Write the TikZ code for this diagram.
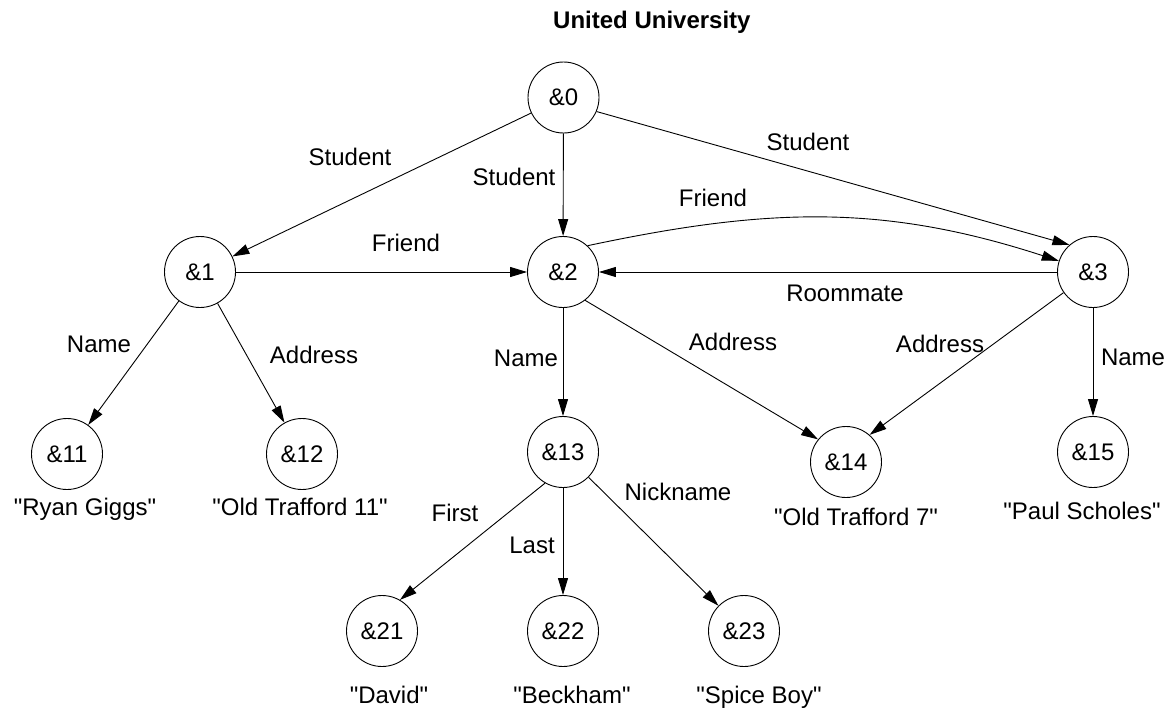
\documentclass[tikz,border=0pt]{standalone}
\usepackage{fontspec}
\setmainfont{Liberation Sans}
\usetikzlibrary{arrows.meta}
% straight double quote around string values
\newcommand{\qq}[1]{\textquotedbl#1\textquotedbl}

\begin{document}
\begin{tikzpicture}[x=1pt,y=-1pt,
  state/.style={circle,draw,line width=0.9pt,minimum size=71pt,inner sep=0pt,
    font=\fontsize{24}{28}\selectfont},
  lbl/.style={anchor=base,inner sep=0pt,font=\fontsize{24}{28}\selectfont},
  link/.style={line width=0.9pt,-{Triangle[length=17pt,width=10pt]}}]
\useasboundingbox (0,0) rectangle (1169,709);

% title
\node[lbl,anchor=base west,font=\bfseries\fontsize{24}{28}\selectfont] (title) at (553,28.5) {United University};

% objects
\node[state] (n0)  at (563.5,97.5) {\&0};
\node[state] (n1)  at (200,272)  {\&1};
\node[state] (n2)  at (563,272)  {\&2};
\node[state] (n3)  at (1093,272) {\&3};
\node[state] (n11) at (67,454)   {\&11};
\node[state] (n12) at (302,454)  {\&12};
\node[state] (n13) at (563,452)  {\&13};
\node[state] (n14) at (846,462)  {\&14};
\node[state] (n15) at (1093,452) {\&15};
\node[state] (n21) at (382,631)  {\&21};
\node[state] (n22) at (563,631)  {\&22};
\node[state] (n23) at (744,631)  {\&23};

% atomic values
\node[lbl] (v11) at (85,515.5)   {\qq{Ryan Giggs}};
\node[lbl] (v12) at (300,515.5)  {\qq{Old Trafford 11}};
\node[lbl] (v14) at (856,525)    {\qq{Old Trafford 7}};
\node[lbl] (v15) at (1082,519.5) {\qq{Paul Scholes}};
\node[lbl] (v21) at (389,703.5)  {\qq{David}};
\node[lbl] (v22) at (572,703.5)  {\qq{Beckham}};
\node[lbl] (v23) at (759,703.5)  {\qq{Spice Boy}};

% edges
\draw[link] (n0) -- (n1);
\draw[link] (n0) -- (n2);
\draw[link] (n0.-23) -- (n3.131);
\draw[link] (n1) -- (n2);
\draw[link] (n2.47) to[out=12,in=162] (n3.162);
\draw[link] (n3) -- (n2);
\draw[link] (n1) -- (n11);
\draw[link] (n1) -- (n12);
\draw[link] (n2) -- (n13);
\draw[link] (n2.-52) -- (n14.141);
\draw[link] (n3.215) -- (n14.49);
\draw[link] (n3) -- (n15);
\draw[link] (n13.240) -- (n21.60);
\draw[link] (n13) -- (n22);
\draw[link] (n13) -- (n23);

% edge labels
\node[lbl] (l01)  at (350,165.5)  {Student};
\node[lbl] (l02)  at (514,185.5)  {Student};
\node[lbl] (l03)  at (808,150.5)  {Student};
\node[lbl] (l12)  at (406,251.5)  {Friend};
\node[lbl] (l23)  at (713,206.5)  {Friend};
\node[lbl] (l32)  at (845,301.5)  {Roommate};
\node[lbl] (l111) at (99,352)     {Name};
\node[lbl] (l112) at (314,363.5)  {Address};
\node[lbl] (l213) at (526,366.5)  {Name};
\node[lbl] (l214) at (733,350.5)  {Address};
\node[lbl] (l314) at (940,352.5)  {Address};
\node[lbl] (l315) at (1133,365.5) {Name};
\node[lbl] (l1321) at (455,521.5) {First};
\node[lbl] (l1322) at (532,553)   {Last};
\node[lbl] (l1323) at (678,500)   {Nickname};
\end{tikzpicture}
\end{document}
